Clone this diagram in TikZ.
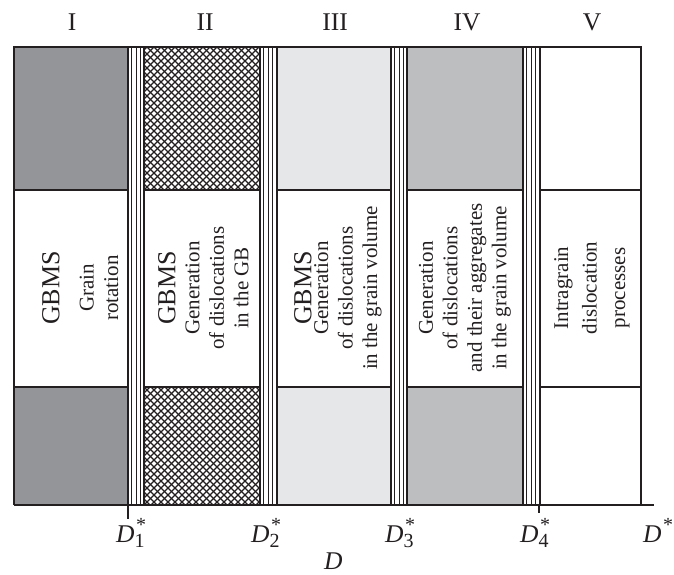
\documentclass[tikz,border=0pt]{standalone}
\usepackage{fontspec}
\setmainfont{Liberation Serif}
\definecolor{ink}{HTML}{231F20}
\definecolor{darkfill}{HTML}{939598}
\definecolor{midfill}{HTML}{BCBEC0}
\definecolor{lightfill}{HTML}{E6E7E8}
% critical size label: italic D with a star above and an index below
\newcommand\idxfont{\fontsize{20}{20}\selectfont}
\newcommand\Dlab[1]{\textit{D}\makebox[0pt][l]{\kern1.5pt\raisebox{10.5pt}{\idxfont *}}\raisebox{-5pt}{\idxfont #1}}
\tikzset{
  colframe/.style={draw=ink, line width=1.8pt},
  sepline/.style={draw=ink, line width=1pt},
  bandline/.style={draw=ink, line width=1.6pt},
  hatchline/.style={draw=ink, line width=1.15pt},
  roman/.style={font=\fontsize{25.5}{25.5}\selectfont, text=ink},
  bigtext/.style={rotate=90, font=\fontsize{26}{26}\selectfont, text=ink},
  celltext/.style={rotate=90, align=center, font=\fontsize{21}{24.5}\selectfont, text=ink},
  axislabel/.style={anchor=base west, inner sep=0pt, font=\fontsize{25.5}{25.5}\selectfont, text=ink},
}
\begin{document}
\begin{tikzpicture}[x=1pt, y=-1pt]
\useasboundingbox (0,0) rectangle (674,574);
\fill[white] (0,0) rectangle (674,574);

% column fills
\fill[darkfill]  (14,47)  rectangle (128,505);
\fill[lightfill] (277,47) rectangle (391,505);
\fill[midfill]   (407,47) rectangle (523,505);
% cross-hatched column II
\begin{scope}
  \clip (144,47) rectangle (260,505);
  \foreach \i in {-476,-469,...,735} {
    \draw[hatchline] (\i,47) -- ++(470,470);
    \draw[hatchline] (\i,47) -- ++(-470,470);
  }
\end{scope}

% white middle bands with their borders
\foreach \l/\r in {14/128, 144/260, 277/391, 407/523, 540/641} {
  \fill[white] (\l,190) rectangle (\r,387);
  \draw[bandline] (\l,190) -- (\r,190);
  \draw[bandline] (\l,387) -- (\r,387);
  \draw[colframe] (\l,505) -- (\l,47) -- (\r,47) -- (\r,505);
}

% boundary strips between the regimes
\foreach \a in {128, 260, 391, 523} {
  \draw[colframe] (\a,47) -- (\a+16,47);
  \foreach \d in {3.5, 8, 12.5}
    \draw[sepline] (\a+\d,47) -- (\a+\d,505);
}

% axis with ticks
\coordinate (ax0) at (14,505);
\coordinate (ax1) at (654,505);
\draw[ink, line width=1.6pt] (ax0) -- (ax1);
\coordinate (t1) at (128,505);
\coordinate (t4) at (539,505);
\draw[ink, line width=1.6pt] (t1) -- ++(0,14);
\draw[ink, line width=1.6pt] (t4) -- ++(0,8);

% regime numbers
\node[roman] (nI)   at (72,22)  {I};
\node[roman] (nII)  at (205,22) {II};
\node[roman] (nIII) at (335,22) {III};
\node[roman] (nIV)  at (467,22) {IV};
\node[roman] (nV)   at (592,22) {V};

% mechanisms
\node[bigtext]  (g1) at (51,288)  {GBMS};
\node[celltext] (c1) at (99,288)  {Grain\\rotation};
\node[bigtext]  (g2) at (167,288) {GBMS};
\node[celltext] (c2) at (217,288) {Generation\\of dislocations\\in the GB};
\node[bigtext]  (g3) at (303,288) {GBMS};
\node[celltext] (c3) at (348,288) {Generation\\of dislocations\\in the grain volume};
\node[celltext] (c4) at (465,288) {Generation\\of dislocations\\and their aggregates\\in the grain volume};
\node[celltext, font=\fontsize{21}{28.5}\selectfont] (c5) at (592,288) {Intragrain\\dislocation\\processes};

% critical sizes
\node[axislabel] (d1) at (116,542) {\Dlab{1}};
\node[axislabel] (d2) at (251,542) {\Dlab{2}};
\node[axislabel] (d3) at (385,542) {\Dlab{3}};
\node[axislabel] (d4) at (520,542) {\Dlab{4}};
\node[axislabel] (d5) at (643,542) {\textit{D}\makebox[0pt][l]{\kern1.5pt\raisebox{10.5pt}{\idxfont *}}};
\node[axislabel] (dd) at (324,569) {\textit{D}};
\end{tikzpicture}
\end{document}
